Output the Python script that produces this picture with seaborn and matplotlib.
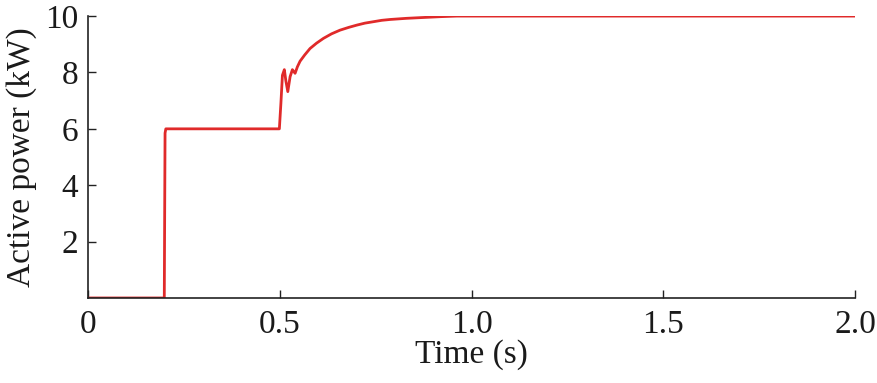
import numpy as np
import pandas as pd
import matplotlib
matplotlib.use("Agg")
import matplotlib.pyplot as plt
import seaborn as sns

# === Data (time in s, active power in kW) ===
time_s = [0.0, 0.199, 0.2, 0.201, 0.203, 0.3, 0.4, 0.499, 0.503, 0.507, 0.512,
          0.516, 0.521, 0.527, 0.533, 0.540, 0.546, 0.553, 0.565, 0.579,
          0.596, 0.614, 0.635, 0.657, 0.680, 0.701, 0.722, 0.744, 0.766,
          0.788, 0.83, 0.874, 0.92, 0.961, 1.0, 1.2, 1.4, 1.6, 1.8, 2.0]
power_kw = [0.0, 0.0, 3.0, 5.85, 6.0, 6.0, 6.0, 6.0, 6.9, 7.9, 8.1,
            7.7, 7.32, 7.85, 8.1, 7.97, 8.2, 8.4, 8.62, 8.85,
            9.04, 9.21, 9.37, 9.50, 9.60, 9.68, 9.75, 9.80, 9.85,
            9.88, 9.92, 9.95, 9.98, 10.0, 10.0, 10.0, 10.0, 10.0, 10.0, 10.0]

x_ticks = [0, 0.5, 1.0, 1.5, 2.0]
x_ticklabels = ["0", "0.5", "1.0", "1.5", "2.0"]
y_ticks = [2, 4, 6, 8, 10]

df = pd.DataFrame({"Time": time_s, "Power": power_kw})

# === Plot ===
sns.set_style("ticks")
plt.rcParams["font.family"] = ["Liberation Serif", "DejaVu Serif"]
plt.rcParams["xtick.direction"] = "in"
plt.rcParams["ytick.direction"] = "in"

fig = plt.figure(figsize=(8.77, 3.83), dpi=100)
ax = fig.add_axes([0.1003, 0.222, 0.8747, 0.736])

sns.lineplot(data=df, x="Time", y="Power", color="#e02a2a", linewidth=2.0, ax=ax)

ax.set_xlim(0, 2.0)
ax.set_ylim(0, 10)
ax.set_xticks(x_ticks)
ax.set_xticklabels(x_ticklabels)
ax.set_yticks(y_ticks)
ax.tick_params(axis="both", labelsize=24, length=6, width=1.0, colors="#222222",
               labelcolor="#1a1a1a")
ax.tick_params(axis="x", pad=8)
ax.tick_params(axis="y", pad=7)
ax.set_xlabel("Time (s)", fontsize=24, color="#1a1a1a", labelpad=0)
ax.set_ylabel("Active power (kW)", fontsize=24, color="#1a1a1a", labelpad=6)

for side in ["top", "right"]:
    ax.spines[side].set_visible(False)
for side in ["left", "bottom"]:
    ax.spines[side].set_color("#222222")
    ax.spines[side].set_linewidth(1.2)

fig.savefig("out.png", dpi=100)
